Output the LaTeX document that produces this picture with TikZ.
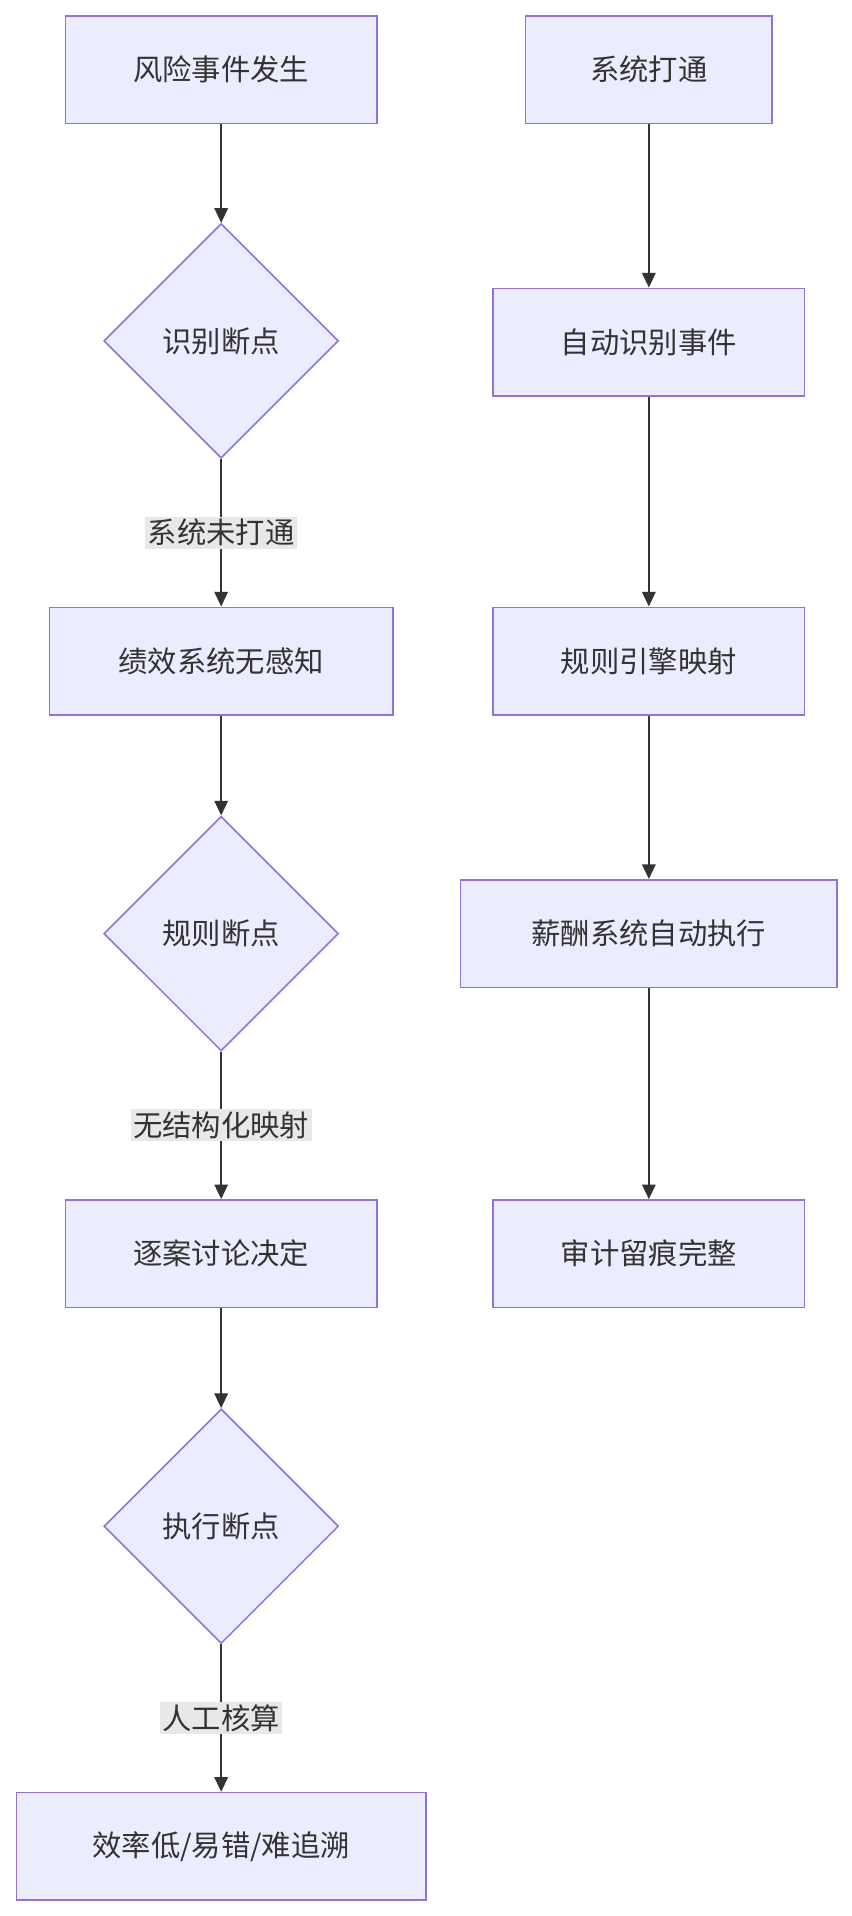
\documentclass[tikz,border=0pt]{standalone}
\usepackage{fontspec}
\setmainfont{Noto Sans CJK SC}
\usetikzlibrary{shapes.geometric,arrows.meta}
\definecolor{bfill}{HTML}{ECECFF}
\definecolor{bline}{HTML}{9370DB}
\definecolor{tx}{HTML}{333333}
\definecolor{lbg}{HTML}{E8E8E8}
\begin{document}
\begin{tikzpicture}[x=1pt,y=-1pt,
  every node/.style={font=\fontsize{24}{28}\selectfont,text=tx},
  box/.style={draw=bline,fill=bfill,line width=1.3pt,minimum height=88pt,inner sep=0pt},
  dia/.style={diamond,draw=bline,fill=bfill,line width=1.3pt,minimum width=192pt,minimum height=192pt,inner sep=0pt},
  arr/.style={draw=tx,line width=1.5pt,-{Triangle[length=12pt,width=11pt]}},
  lbl/.style={fill=lbg,inner sep=2pt,fill opacity=1}]
\useasboundingbox (0,0) rectangle (697,1568);
\node[box,minimum width=255pt] (a1) at (181,57) {风险事件发生};
\node[dia] (d1) at (181,279) {识别断点};
\node[box,minimum width=281pt] (a2) at (181,541) {绩效系统无感知};
\node[dia] (d2) at (181,764) {规则断点};
\node[box,minimum width=255pt] (a3) at (181,1026) {逐案讨论决定};
\node[dia] (d3) at (181,1249) {执行断点};
\node[box,minimum width=335pt] (a4) at (181,1511) {效率低/易错/难追溯};
\node[box,minimum width=202pt] (b1) at (531,57) {系统打通};
\node[box,minimum width=255pt] (b2) at (531,280) {自动识别事件};
\node[box,minimum width=255pt] (b3) at (531,541) {规则引擎映射};
\node[box,minimum width=308pt] (b4) at (531,764) {薪酬系统自动执行};
\node[box,minimum width=255pt] (b5) at (531,1026) {审计留痕完整};
\draw[arr] (a1) -- (d1);
\draw[arr] (d1) -- node[lbl]{系统未打通} (a2);
\draw[arr] (a2) -- (d2);
\draw[arr] (d2) -- node[lbl]{无结构化映射} (a3);
\draw[arr] (a3) -- (d3);
\draw[arr] (d3) -- node[lbl]{人工核算} (a4);
\draw[arr] (b1) -- (b2);
\draw[arr] (b2) -- (b3);
\draw[arr] (b3) -- (b4);
\draw[arr] (b4) -- (b5);
\end{tikzpicture}
\end{document}
